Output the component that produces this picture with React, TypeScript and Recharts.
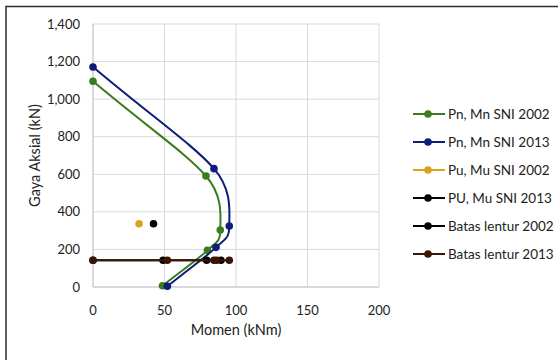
import React from 'react';
import {
  ScatterChart, Scatter, XAxis, YAxis, CartesianGrid, Label,
} from 'recharts';

// Interaction diagram values (M in kNm, P in kN)
const pnMn2002 = [
  { x: 0, y: 1095 },
  { x: 79, y: 591 },
  { x: 89, y: 303 },
  { x: 80, y: 195 },
  { x: 48.6, y: 7 },
];
const pnMn2013 = [
  { x: 0, y: 1171 },
  { x: 84.6, y: 630 },
  { x: 95.3, y: 325 },
  { x: 86, y: 211 },
  { x: 52, y: 4 },
];
const puMu2002 = [{ x: 32.2, y: 337 }];
const puMu2013 = [{ x: 42.3, y: 337 }];
const batas2002 = [
  { x: 0, y: 142 },
  { x: 49, y: 142 },
  { x: 79.5, y: 142 },
  { x: 89.5, y: 142 },
];
const batas2013 = [
  { x: 0, y: 142 },
  { x: 52, y: 142 },
  { x: 84.6, y: 142 },
  { x: 86.5, y: 142 },
  { x: 95.3, y: 142 },
];

const xTicks = [0, 50, 100, 150, 200];
const yTicks = [0, 200, 400, 600, 800, 1000, 1200, 1400];

const FONT = 'Lato, "Liberation Sans", sans-serif';

const SERIES = [
  { name: 'Pn, Mn SNI 2002', data: pnMn2002, color: '#3a7d1f', line: true },
  { name: 'Pn, Mn SNI 2013', data: pnMn2013, color: '#0d1d78', line: true },
  { name: 'Pu, Mu SNI 2002', data: puMu2002, color: '#dca21a', line: false },
  { name: 'PU, Mu SNI 2013', data: puMu2013, color: '#050505', line: false },
  { name: 'Batas lentur 2002', data: batas2002, color: '#000000', line: true },
  { name: 'Batas lentur 2013', data: batas2013, color: '#3b1606', line: true },
];

// Excel-like smoothed line: bezier through every point, handle length
// limited by the shorter neighbouring segment so long runs stay straight
function smoothCurve(context: any) {
  let pts: number[][] = [];
  const dist = (a: number[], b: number[]) => Math.hypot(b[0] - a[0], b[1] - a[1]);
  const handle = (prev: number[], cur: number[], next: number[]) => {
    const dx = next[0] - prev[0];
    const dy = next[1] - prev[1];
    const len = Math.hypot(dx, dy) || 1;
    const d1 = dist(prev, cur) || dist(cur, next);
    const d2 = dist(cur, next) || dist(prev, cur);
    const k = Math.min(d1, d2) * 0.5;
    return [dx / len * k, dy / len * k];
  };
  return {
    areaStart() {},
    areaEnd() {},
    lineStart() { pts = []; },
    point(x: number, y: number) { pts.push([+x, +y]); },
    lineEnd() {
      if (!pts.length) return;
      context.moveTo(pts[0][0], pts[0][1]);
      for (let i = 0; i < pts.length - 1; i++) {
        const p0 = pts[i - 1] || pts[i];
        const p1 = pts[i];
        const p2 = pts[i + 1];
        const p3 = pts[i + 2] || p2;
        const t1 = handle(p0, p1, p2);
        const t2 = handle(p1, p2, p3);
        context.bezierCurveTo(
          p1[0] + t1[0], p1[1] + t1[1],
          p2[0] - t2[0], p2[1] - t2[1],
          p2[0], p2[1],
        );
      }
    },
  };
}

function dot(color: string) {
  return (p: any) => <circle cx={p.cx} cy={p.cy} r={3.8} fill={color} />;
}

function LegendBox() {
  return (
    <div style={{ position: 'absolute', left: 413, top: 100, fontFamily: FONT, fontSize: 13.5, color: '#222' }}>
      {SERIES.map((s) => (
        <div key={s.name} style={{ display: 'flex', alignItems: 'center', height: 28 }}>
          <svg width={34} height={10} style={{ marginRight: 1 }}>
            <line x1={0} y1={5} x2={32} y2={5} stroke={s.color} strokeWidth={2} />
            <circle cx={15} cy={5} r={3.8} fill={s.color} />
          </svg>
          <span>{s.name}</span>
        </div>
      ))}
    </div>
  );
}

export default function App() {
  return (
    <div style={{ position: 'absolute', left: 0, top: 0, width: 558, height: 360, background: '#fff' }}>
      <ScatterChart
        width={558}
        height={360}
        margin={{ top: 24, right: 179, bottom: 33, left: 33 }}
      >
        {/* outer chart frame, only its top and left edges fall inside the picture */}
        <path d="M6,360 L6,6.5 L558,6.5" fill="none" stroke="#2b2b2b" strokeWidth={1.5} />
        <CartesianGrid stroke="#d9d9d9" strokeWidth={1} />
        <XAxis
          type="number"
          dataKey="x"
          domain={[0, 200]}
          ticks={xTicks}
          height={40}
          axisLine={{ stroke: '#c8c8c8' }}
          tickLine={false}
          tickSize={0}
          tickMargin={19}
          tick={{ fontFamily: FONT, fontSize: 13, fill: '#222' }}
        >
          <Label
            value="Momen (kNm)"
            position="center"
            dy={23}
            style={{ fontFamily: FONT, fontSize: 14.5, fill: '#222' }}
          />
        </XAxis>
        <YAxis
          type="number"
          dataKey="y"
          domain={[0, 1400]}
          ticks={yTicks}
          width={60}
          axisLine={{ stroke: '#c8c8c8' }}
          tickLine={false}
          tickSize={0}
          tickMargin={13}
          tickFormatter={(v: number) => v.toLocaleString('en-US')}
          tick={{ fontFamily: FONT, fontSize: 13, fill: '#222' }}
        >
          <Label
            value="Gaya Aksial (kN)"
            position="center"
            angle={-90}
            dx={-28}
            style={{ fontFamily: FONT, fontSize: 14.5, fill: '#222', textAnchor: 'middle' }}
          />
        </YAxis>
        {SERIES.map((s) => (
          <Scatter
            key={s.name}
            name={s.name}
            data={s.data}
            fill={s.color}
            line={s.line ? { stroke: s.color, strokeWidth: 2 } : false}
            lineJointType={smoothCurve as any}
            shape={dot(s.color)}
            isAnimationActive={false}
          />
        ))}
      </ScatterChart>
      <LegendBox />
    </div>
  );
}
